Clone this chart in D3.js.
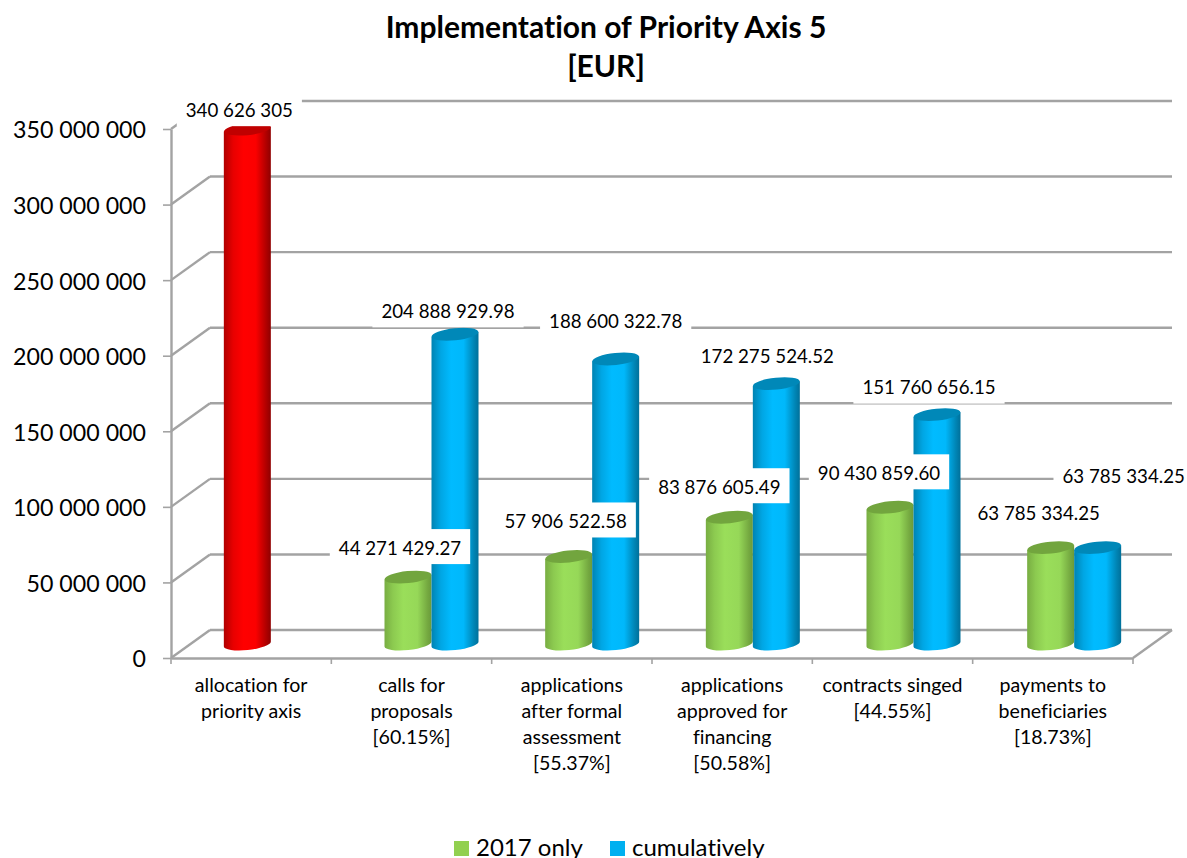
<!DOCTYPE html>
<html>
<head>
<meta charset="utf-8">
<script src="https://cdn.jsdelivr.net/npm/d3@7"></script>
<style>
html,body{margin:0;padding:0;background:#fff;overflow:hidden}
svg{display:block}
text{font-family:Lato,"Open Sans",sans-serif;fill:#000;font-variant-ligatures:none}
</style>
</head>
<body>
<svg id="c" width="1187" height="858"></svg>
<script>
// ---- data ----
const titleLines = ["Implementation of Priority Axis 5", "[EUR]"];
const categories = ["allocation", "calls", "assessment", "approved", "contracts", "payments"];
const categoryLabels = [
  ["allocation for", "priority axis"],
  ["calls for", "proposals", "[60.15%]"],
  ["applications", "after formal", "assessment", "[55.37%]"],
  ["applications", "approved for", "financing", "[50.58%]"],
  ["contracts singed", "[44.55%]"],
  ["payments to", "beneficiaries", "[18.73%]"]
];
const seriesNames = ["2017 only", "cumulatively"];
const only2017 = [340626305, 44271429.27, 57906522.58, 83876605.49, 90430859.60, 63785334.25];
const cumulative = [null, 204888929.98, 188600322.78, 172275524.52, 151760656.15, 63785334.25];
const yTicks = [0, 50000000, 100000000, 150000000, 200000000, 250000000, 300000000, 350000000];

// ---- layout ----
const W = 1187, H = 858;
const front = {left: 171, right: 1133, bottom: 658, top: 129};
const depth = {x: 39, y: 28};
const barW = 47, rx = barW / 2, ry = 6, tilt = 2.4, tiltDeg = -6;
// label centre offsets from the top of each bar [dx, dy]
const offsets2017 = [[-8,-19],[-8,-29],[-3,-35],[-10,-30],[-11,-34],[-12,-34]];
const offsetsCum  = [null,[-7,-23],[0,-37],[-9,-27],[-8,-27],[26,-71]];

const svg = d3.select("#c");
const defs = svg.append("defs");
const gridColor = "#a3a3a3";

function grad(id, stops) {
  const g = defs.append("linearGradient").attr("id", id).attr("x1", 0).attr("x2", 1).attr("y1", 0).attr("y2", 0);
  stops.forEach(s => g.append("stop").attr("offset", s[0]).attr("stop-color", s[1]));
}
grad("gGreen", [[0,"#78ad42"],[0.18,"#8cca50"],[0.4,"#9ade5a"],[0.7,"#96d858"],[0.92,"#74a840"],[1,"#6a9a3a"]]);
grad("gBlue",  [[0,"#0083b2"],[0.2,"#00a6e4"],[0.42,"#00bbff"],[0.68,"#00b8fb"],[0.9,"#0085b5"],[1,"#00709a"]]);
grad("gRed",   [[0,"#b00000"],[0.2,"#e80000"],[0.42,"#ff0000"],[0.68,"#fb0000"],[0.9,"#b00000"],[1,"#8f0000"]]);
const capGreen = "#72a53e", capBlue = "#0088b8", capRed = "#c00000";

// ---- scales ----
const y = d3.scaleLinear().domain([0, 350000000]).range([front.bottom, front.top]);
const x = d3.scaleBand().domain(categories).range([front.left, front.right]);
const xBars = d3.scaleBand().domain(categories).range([front.left + depth.x / 2, front.right + depth.x / 2 + 2]);
const xSeries = d3.scaleBand().domain(seriesNames).range([0, xBars.bandwidth()])
  .paddingInner(0).paddingOuter((xBars.bandwidth() - 2 * barW) / 2 / barW);

// ---- wall + floor grid ----
const grid = svg.append("g").attr("fill", "none").attr("stroke", gridColor).attr("stroke-width", 2.4);
grid.selectAll("line.back").data(yTicks).join("line").attr("class", "back")
  .attr("x1", front.left + depth.x).attr("x2", front.right + depth.x)
  .attr("y1", d => y(d) - depth.y).attr("y2", d => y(d) - depth.y);
grid.selectAll("line.side").data(yTicks).join("line").attr("class", "side")
  .attr("x1", front.left).attr("x2", front.left + depth.x)
  .attr("y1", d => y(d)).attr("y2", d => y(d) - depth.y);
grid.append("line").attr("x1", front.right).attr("x2", front.right + depth.x)
  .attr("y1", y(0)).attr("y2", y(0) - depth.y);

// ---- axes ----
const fmt = d3.formatLocale({decimal: ".", thousands: " ", grouping: [3], currency: ["", ""]});
const yAxis = svg.append("g").attr("transform", `translate(${front.left},0)`)
  .call(d3.axisLeft(y).tickValues(yTicks).tickSize(8).tickPadding(17).tickSizeOuter(0)
    .tickFormat(fmt.format(",d")));
yAxis.select(".domain").attr("stroke", gridColor).attr("stroke-width", 2.4);
yAxis.selectAll(".tick line").attr("stroke", gridColor).attr("stroke-width", 1.6);
yAxis.selectAll(".tick text").attr("font-size", 23.2).attr("y", 1.5)
  .style("font-family", "Lato").attr("fill", "#000");

const xAxis = svg.append("g").attr("transform", `translate(0,${front.bottom})`)
  .call(d3.axisBottom(x).tickValues([]).tickSizeOuter(0));
xAxis.select(".domain").attr("stroke", gridColor).attr("stroke-width", 2.4);
const tickPositions = categories.map(c => x(c)).concat([front.right]);
svg.append("g").selectAll("line").data(tickPositions).join("line")
  .attr("x1", d => d).attr("x2", d => d)
  .attr("y1", front.bottom).attr("y2", front.bottom + 6)
  .attr("stroke", gridColor).attr("stroke-width", 1.6);

// ---- cylinders ----
const baseY = y(0) - depth.y / 2;
function cylinder(sel, cx, value, fillId, cap) {
  const top = y(value) - depth.y / 2;
  const l = cx - rx, r = cx + rx;
  const g = sel.append("g");
  g.append("path")
    .attr("d", `M${l},${top + tilt}L${l},${baseY + tilt}A${rx},${ry} ${tiltDeg} 0 0 ${r},${baseY - tilt}L${r},${top - tilt}Z`)
    .attr("fill", `url(#${fillId})`);
  g.append("ellipse").attr("cx", cx).attr("cy", top).attr("rx", rx).attr("ry", ry)
    .attr("transform", `rotate(${tiltDeg} ${cx} ${top})`)
    .attr("fill", cap);
}
const bars = svg.append("g");
categories.forEach((c, i) => {
  const cx0 = xBars(c) + xSeries(seriesNames[0]) + barW / 2;
  const cx1 = xBars(c) + xSeries(seriesNames[1]) + barW / 2;
  if (i === 0) cylinder(bars, cx0, only2017[i], "gRed", capRed);
  else cylinder(bars, cx0, only2017[i], "gGreen", capGreen);
  if (cumulative[i] != null) cylinder(bars, cx1, cumulative[i], "gBlue", capBlue);
});

// ---- data labels ----
const labelFont = 18.7;
function dataLabel(cx, value, off) {
  const top = y(value) - depth.y / 2;
  const lx = cx + off[0], ly = top + off[1];
  const str = Number.isInteger(value) ? fmt.format(",d")(value) : fmt.format(",.2f")(value);
  const g = svg.append("g");
  const t = g.append("text").attr("x", lx).attr("y", ly).attr("dy", "0.35em")
    .attr("text-anchor", "middle").attr("font-size", labelFont).text(str);
  const w = t.node().getComputedTextLength() + 18;
  g.insert("rect", "text").attr("x", lx - w / 2).attr("y", ly - 19).attr("width", w).attr("height", 35).attr("fill", "#fff");
}
categories.forEach((c, i) => {
  dataLabel(xBars(c) + xSeries(seriesNames[0]) + barW / 2, only2017[i], offsets2017[i]);
  if (cumulative[i] != null) dataLabel(xBars(c) + xSeries(seriesNames[1]) + barW / 2, cumulative[i], offsetsCum[i]);
});

// ---- category labels ----
const catG = svg.append("g").attr("text-anchor", "middle").attr("font-size", 19.6);
categories.forEach((c, i) => {
  categoryLabels[i].forEach((line, k) => {
    catG.append("text").attr("x", x(c) + x.bandwidth() / 2).attr("y", 685 + k * 26).attr("dy", "0.35em").text(line);
  });
});

// ---- title ----
svg.append("g").attr("text-anchor", "middle").attr("font-size", 30).attr("font-weight", 700)
  .selectAll("text").data(titleLines).join("text")
  .attr("x", 606).attr("y", (d, i) => 38 + i * 39).text(d => d);

// ---- legend ----
const legendX = [454, 610], legendColors = ["#92d050", "#00b0f0"];
const leg = svg.append("g");
seriesNames.forEach((s, i) => {
  leg.append("rect").attr("x", legendX[i]).attr("y", 841).attr("width", 15).attr("height", 15).attr("fill", legendColors[i]);
  leg.append("text").attr("x", legendX[i] + 22).attr("y", 856).attr("font-size", 24).text(s);
});
</script>
</body>
</html>
